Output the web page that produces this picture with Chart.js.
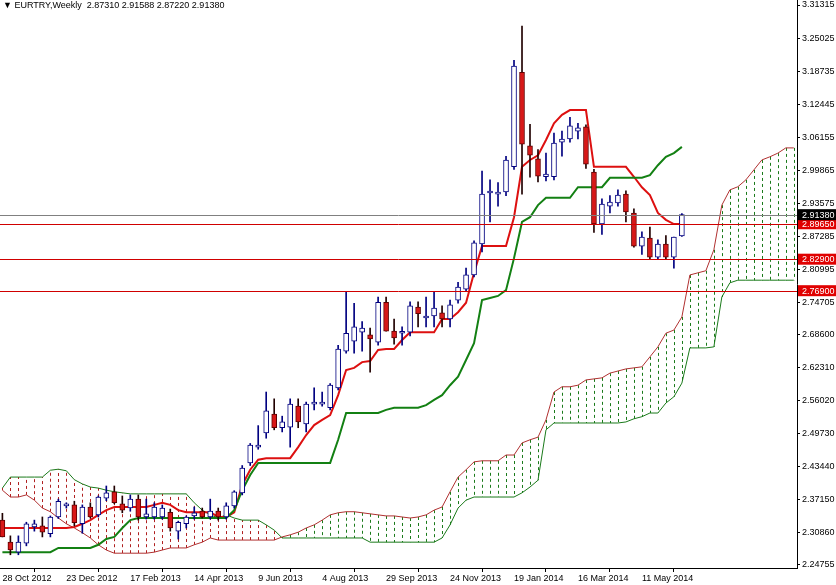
<!DOCTYPE html>
<html>
<head>
<meta charset="utf-8">
<script src="https://cdn.jsdelivr.net/npm/chart.js@4.4.1/dist/chart.umd.min.js"></script>
<style>
  body { margin: 0; background: #fff; }
  #wrap { position: relative; width: 836px; height: 585px; }
  #title { position: absolute; left: 3px; top: 0px; font: 9px "Liberation Sans", Arial, sans-serif; color: #000; white-space: pre; }
</style>
</head>
<body>
<div id="wrap">
  <canvas id="myChart"></canvas>
  <div id="title">▼ EURTRY,Weekly  2.87310 2.91588 2.87220 2.91380</div>
</div>
<script>
// weekly candles, index 0 = week of 28 Oct 2012
const opens = [2.332,2.290,2.271,2.288,2.319,2.321,2.306,2.338,2.359,2.361,
  2.325,2.357,2.342,2.374,2.386,2.363,2.355,2.372,2.338,2.338,
  2.338,2.347,2.311,2.325,2.340,2.349,2.338,2.349,2.338,2.359,
  2.384,2.441,2.471,2.498,2.534,2.508,2.509,2.549,2.515,2.553,
  2.553,2.546,2.584,2.654,2.673,2.690,2.685,2.671,2.747,2.692,
  2.688,2.690,2.738,2.717,2.721,2.727,2.715,2.751,2.772,2.799,
  2.858,2.955,2.953,2.957,3.005,3.185,3.045,3.020,2.986,2.986,
  3.052,3.058,3.073,3.081,2.995,2.896,2.930,2.936,2.953,2.917,
  2.854,2.869,2.833,2.858,2.833,2.8731];
const highs = [2.345,2.302,2.302,2.328,2.332,2.338,2.340,2.372,2.365,2.368,
  2.361,2.365,2.378,2.397,2.397,2.378,2.380,2.380,2.372,2.365,
  2.361,2.353,2.330,2.340,2.357,2.355,2.372,2.355,2.365,2.388,
  2.436,2.478,2.512,2.576,2.563,2.530,2.563,2.563,2.557,2.584,
  2.576,2.592,2.665,2.767,2.745,2.710,2.698,2.757,2.757,2.715,
  2.700,2.748,2.748,2.757,2.767,2.740,2.751,2.785,2.812,2.864,
  2.997,2.980,2.975,3.025,3.208,3.273,3.086,3.038,3.031,3.069,
  3.073,3.099,3.088,3.085,3.000,2.944,2.950,2.961,2.959,2.925,
  2.881,2.890,2.866,2.874,2.871,2.91588];
const lows = [2.300,2.266,2.266,2.283,2.311,2.300,2.300,2.335,2.355,2.321,
  2.307,2.336,2.338,2.369,2.363,2.346,2.349,2.332,2.334,2.334,
  2.334,2.311,2.296,2.317,2.334,2.336,2.334,2.332,2.334,2.355,
  2.380,2.436,2.467,2.488,2.504,2.500,2.471,2.508,2.500,2.542,
  2.549,2.542,2.580,2.650,2.650,2.654,2.614,2.665,2.692,2.667,
  2.665,2.683,2.700,2.700,2.700,2.700,2.700,2.745,2.767,2.795,
  2.843,2.900,2.930,2.950,3.000,2.953,2.985,2.976,2.978,2.980,
  3.025,3.052,3.058,3.002,2.880,2.876,2.917,2.930,2.900,2.852,
  2.838,2.830,2.830,2.830,2.812,2.8722];
const closes = [2.300,2.275,2.290,2.325,2.325,2.309,2.338,2.368,2.363,2.327,
  2.357,2.338,2.376,2.384,2.365,2.351,2.372,2.338,2.344,2.357,
  2.355,2.317,2.328,2.338,2.346,2.338,2.349,2.338,2.359,2.386,
  2.431,2.475,2.475,2.540,2.508,2.519,2.553,2.519,2.553,2.555,
  2.555,2.589,2.658,2.688,2.700,2.698,2.677,2.747,2.692,2.679,
  2.690,2.740,2.725,2.719,2.736,2.715,2.742,2.776,2.799,2.860,
  2.953,2.957,2.957,3.018,3.197,3.048,3.027,2.987,2.991,3.050,
  3.058,3.083,3.079,3.010,2.896,2.934,2.938,2.951,2.919,2.854,
  2.871,2.833,2.858,2.833,2.871,2.9138];

// ichimoku lines
const tenkan = [2.317,2.317,2.317,2.317,2.317,2.317,2.317,2.317,2.317,2.319,
  2.325,2.332,2.342,2.351,2.357,2.357,2.357,2.357,2.357,2.361,
  2.365,2.361,2.351,2.347,2.347,2.347,2.347,2.338,2.338,2.347,
  2.399,2.428,2.447,2.450,2.450,2.450,2.450,2.471,2.494,2.513,
  2.523,2.532,2.570,2.618,2.622,2.633,2.635,2.656,2.658,2.658,
  2.675,2.690,2.690,2.690,2.690,2.715,2.715,2.728,2.746,2.803,
  2.854,2.854,2.854,2.854,2.909,3.005,3.018,3.027,3.056,3.088,
  3.104,3.113,3.113,3.113,3.005,3.005,3.005,3.005,3.005,2.986,
  2.966,2.951,2.917,2.904,2.896,2.896];
const kijun = [2.271,2.271,2.271,2.271,2.271,2.271,2.271,2.279,2.279,2.279,
  2.279,2.279,2.285,2.296,2.300,2.317,2.332,2.336,2.336,2.336,
  2.336,2.336,2.336,2.336,2.336,2.336,2.336,2.336,2.336,2.351,
  2.389,2.418,2.441,2.441,2.441,2.441,2.441,2.441,2.441,2.441,
  2.441,2.441,2.485,2.536,2.536,2.536,2.536,2.536,2.542,2.546,
  2.546,2.546,2.546,2.551,2.561,2.570,2.589,2.605,2.637,2.669,
  2.751,2.755,2.759,2.770,2.831,2.900,2.909,2.932,2.946,2.946,
  2.946,2.946,2.966,2.966,2.966,2.966,2.984,2.984,2.984,2.984,
  2.984,2.989,3.008,3.024,3.031,3.043];
const spanA = [2.389,2.376,2.376,2.380,2.370,2.355,2.348,2.336,2.325,2.317,
  2.308,2.298,2.285,2.275,2.269,2.269,2.269,2.269,2.269,2.271,
  2.275,2.279,2.279,2.279,2.285,2.290,2.298,2.294,2.294,2.294,
  2.294,2.294,2.294,2.294,2.294,2.300,2.304,2.309,2.317,2.323,
  2.332,2.342,2.346,2.348,2.348,2.346,2.344,2.342,2.340,2.340,
  2.338,2.336,2.338,2.342,2.351,2.357,2.386,2.414,2.428,2.443,
  2.445,2.445,2.445,2.456,2.456,2.479,2.485,2.490,2.523,2.576,
  2.586,2.586,2.589,2.599,2.601,2.603,2.612,2.616,2.620,2.622,
  2.624,2.643,2.662,2.688,2.694,2.719,2.799,2.803,2.807,2.847,
  2.932,2.961,2.967,2.980,2.999,3.018,3.024,3.031,3.041,3.041];
const spanB = [2.393,2.414,2.414,2.414,2.414,2.414,2.427,2.429,2.426,2.409,
  2.401,2.395,2.393,2.389,2.386,2.384,2.382,2.382,2.382,2.382,
  2.382,2.382,2.382,2.382,2.365,2.351,2.342,2.336,2.342,2.336,
  2.332,2.332,2.332,2.323,2.313,2.298,2.298,2.298,2.298,2.298,
  2.298,2.298,2.298,2.298,2.298,2.298,2.290,2.290,2.290,2.290,
  2.290,2.290,2.290,2.290,2.290,2.298,2.323,2.355,2.370,2.376,
  2.376,2.376,2.376,2.376,2.376,2.384,2.395,2.408,2.504,2.517,
  2.517,2.517,2.517,2.517,2.517,2.517,2.517,2.517,2.519,2.525,
  2.529,2.536,2.536,2.555,2.567,2.593,2.660,2.660,2.660,2.662,
  2.757,2.784,2.789,2.789,2.789,2.789,2.789,2.789,2.789,2.789];

const yTicks = [3.31315,3.25025,3.18735,3.12445,3.06155,2.99865,2.93575,2.87285,2.80995,
  2.74705,2.68600,2.62310,2.56020,2.49730,2.43440,2.37150,2.30860,2.24755];
const xTickIdx = [0,8,16,24,32,40,48,56,64,72,80];
const xTickLabels = ['28 Oct 2012','23 Dec 2012','17 Feb 2013','14 Apr 2013','9 Jun 2013',
  '4 Aug 2013','29 Sep 2013','24 Nov 2013','19 Jan 2014','16 Mar 2014','11 May 2014'];
const levels = [2.89650, 2.82900, 2.76900];
const lastPrice = 2.91380;

const FONT = { family: '"Liberation Sans", Arial, sans-serif', size: 9 };
const bull = closes.map((c, i) => c >= opens[i]);

const hatch = {
  id: 'hatch',
  beforeDatasetsDraw(chart) {
    const { ctx, scales: { x, y }, chartArea } = chart;
    ctx.save();
    ctx.beginPath();
    ctx.rect(chartArea.left, chartArea.top, chartArea.right - chartArea.left, chartArea.bottom - chartArea.top);
    ctx.clip();
    ctx.lineWidth = 1;
    ctx.setLineDash([3, 3]);
    spanA.forEach((a, i) => {
      const b = spanB[i];
      const px = Math.round(x.getPixelForValue(i)) + 0.5;
      ctx.strokeStyle = b > a ? '#b02020' : '#1a7a1a';
      ctx.beginPath();
      ctx.moveTo(px, y.getPixelForValue(a));
      ctx.lineTo(px, y.getPixelForValue(b));
      ctx.stroke();
    });
    ctx.restore();
  },
  afterDatasetsDraw(chart) {
    const { ctx, scales: { x, y }, chartArea } = chart;
    ctx.save();
    const line = (v, col) => {
      const py = Math.round(y.getPixelForValue(v)) + 0.5;
      ctx.strokeStyle = col;
      ctx.lineWidth = 1;
      ctx.beginPath();
      ctx.moveTo(chartArea.left, py);
      ctx.lineTo(chartArea.right, py);
      ctx.stroke();
    };
    line(lastPrice, '#808080');
    levels.forEach(v => line(v, '#d00000'));
    const tag = (v, bg) => {
      const py = y.getPixelForValue(v);
      ctx.fillStyle = bg;
      ctx.fillRect(chartArea.right + 1, py - 5.5, 40, 11);
      ctx.fillStyle = '#fff';
      ctx.font = '9px "Liberation Sans", Arial, sans-serif';
      ctx.textBaseline = 'middle';
      ctx.fillText(v.toFixed(5), chartArea.right + 5, py + 0.5);
    };
    levels.forEach(v => tag(v, '#e00000'));
    tag(lastPrice, '#000');
    ctx.restore();
  }
};

const idx = opens.map((_, i) => i);
const cloudIdx = spanA.map((_, i) => i);

const ctx = document.getElementById('myChart').getContext('2d');
const myChart = new Chart(ctx, {
  type: 'bar',
  data: {
    datasets: [
      {
        type: 'line', label: 'spanA', order: 5,
        data: cloudIdx.map(i => ({ x: i, y: spanA[i] })),
        borderColor: '#b03030', borderWidth: 1, pointRadius: 0
      },
      {
        type: 'line', label: 'spanB', order: 5,
        data: cloudIdx.map(i => ({ x: i, y: spanB[i] })),
        borderColor: '#1a7a1a', borderWidth: 1, pointRadius: 0
      },
      {
        type: 'line', label: 'kijun', order: 3,
        data: idx.map(i => ({ x: i, y: kijun[i] })),
        borderColor: '#138013', borderWidth: 2, pointRadius: 0
      },
      {
        type: 'line', label: 'tenkan', order: 3,
        data: idx.map(i => ({ x: i, y: tenkan[i] })),
        borderColor: '#dd1010', borderWidth: 2, pointRadius: 0
      },
      {
        label: 'wicks', order: 2, grouped: false, barThickness: 1,
        data: idx.map(i => ({ x: i, y: [lows[i], highs[i]] })),
        backgroundColor: idx.map(i => bull[i] ? '#000080' : '#200000')
      },
      {
        label: 'bodies', order: 1, grouped: false, barThickness: 5, minBarLength: 2,
        data: idx.map(i => ({ x: i, y: [opens[i], closes[i]] })),
        backgroundColor: idx.map(i => bull[i] ? '#ffffff' : '#d81818'),
        borderColor: idx.map(i => bull[i] ? '#000080' : '#600000'),
        borderWidth: 1, borderSkipped: false
      }
    ]
  },
  options: {
    responsive: true,
    maintainAspectRatio: false,
    devicePixelRatio: 1,
    animation: false,
    layout: { padding: 0 },
    plugins: { legend: { display: false }, tooltip: { enabled: false } },
    scales: {
      x: {
        type: 'linear', min: -0.3, max: 99.4, offset: false,
        afterBuildTicks: s => { s.ticks = xTickIdx.map(v => ({ value: v })); },
        afterFit: s => { s.height = 17; s.paddingLeft = 0; s.paddingRight = 0; },
        ticks: {
          align: 'start', maxRotation: 0, autoSkip: false, padding: 1, color: '#000', font: FONT,
          callback: v => xTickLabels[xTickIdx.indexOf(v)]
        },
        grid: { drawOnChartArea: false, tickLength: 4, color: '#000' },
        border: { color: '#000' }
      },
      y: {
        position: 'right', min: 2.2408, max: 3.3227,
        afterBuildTicks: s => { s.ticks = yTicks.map(v => ({ value: v })); },
        afterFit: s => { s.width = 39; s.paddingTop = 0; s.paddingBottom = 0; },
        ticks: { color: '#000', font: FONT, padding: 2, callback: v => v.toFixed(5) },
        grid: { drawOnChartArea: false, tickLength: 3, color: '#000' },
        border: { color: '#000' }
      }
    }
  },
  plugins: [hatch]
});
</script>
</body>
</html>
